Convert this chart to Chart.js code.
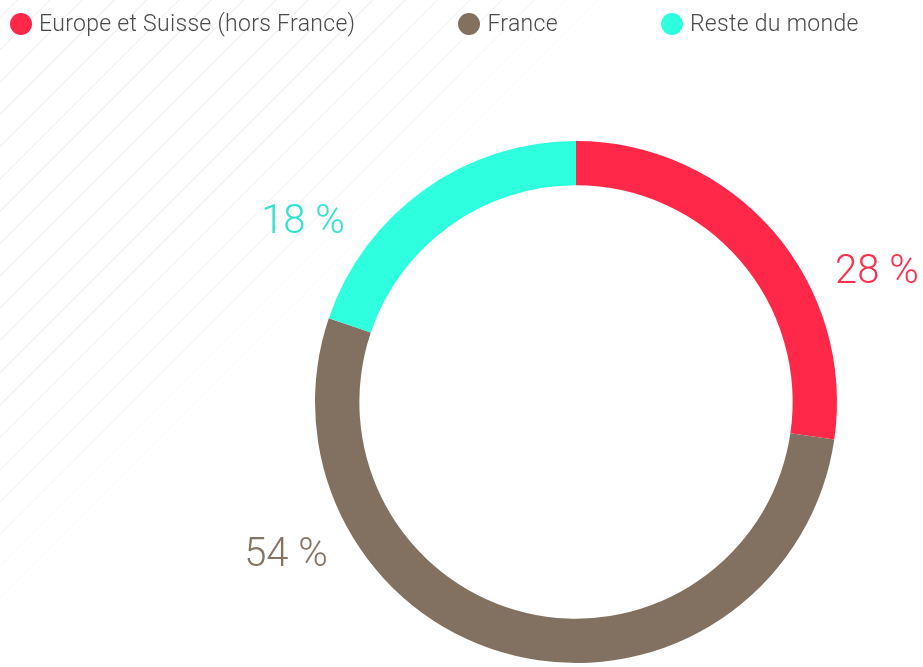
<!DOCTYPE html>
<html>
<head>
    <script src="https://cdn.jsdelivr.net/npm/chart.js"></script>
    <style>
        body { margin: 0; background: #fff; font-family: Roboto, "Noto Sans", Arial, sans-serif; }
        .wrap { position: relative; width: 923px; height: 667px; }
        canvas { position: absolute; left: 0; top: 0; }
        .legend { position: absolute; left: 10px; top: 10px; display: flex; gap: 103px; }
        .item { display: flex; align-items: center; font-size: 23px; letter-spacing: 0.3px; font-weight: 300; color: #4a4a4a; white-space: nowrap; }
        .dot { width: 22px; height: 22px; border-radius: 50%; margin-right: 7px; }
    </style>
</head>
<body>
<div class="wrap">
    <canvas id="donut" width="923" height="667"></canvas>
    <div class="legend" id="legend"></div>
</div>
<script>
    const regions = ['Europe et Suisse (hors France)', 'France', 'Reste du monde'];
    // arc sizes as read from the ring, label texts as printed
    const shares = [27.3, 52.9, 19.8];
    const shareLabels = ['28 %', '54 %', '18 %'];
    const colors = ['#ff2848', '#827161', '#2effdf'];
    const labelColors = ['#ff2e4e', '#857464', '#30e3cf'];

    // label offsets relative to the ring centre, in outer radii
    const labelPos = [[1.153, -0.494], [-1.111, 0.59], [-1.046, -0.686]];

    const legend = document.getElementById('legend');
    regions.forEach((r, i) => {
        const it = document.createElement('div');
        it.className = 'item';
        it.innerHTML = `<span class="dot" style="background:${colors[i]}"></span>${r}`;
        legend.appendChild(it);
    });

    const stripes = {
        id: 'stripes',
        beforeDraw(chart) {
            const ctx = chart.ctx;
            ctx.save();
            ctx.lineWidth = 1;
            for (let c = 17; c < 620; c += 32.3) {
                const a = c < 380 ? 0.8 : Math.max(0.3, 0.8 - (c - 380) / 400);
                ctx.strokeStyle = `rgba(228,228,228,${a})`;
                ctx.beginPath();
                ctx.moveTo(c + 0.5, 0);
                ctx.lineTo(0, c + 0.5);
                ctx.stroke();
            }
            ctx.restore();
        }
    };

    const pctLabels = {
        id: 'pctLabels',
        afterDraw(chart) {
            const arc = chart.getDatasetMeta(0).data[0];
            const cx = arc.x, cy = arc.y, r = arc.outerRadius;
            const ctx = chart.ctx;
            ctx.save();
            ctx.font = '300 40px Roboto';
            ctx.textAlign = 'center';
            ctx.textBaseline = 'middle';
            shareLabels.forEach((t, i) => {
                ctx.fillStyle = labelColors[i];
                ctx.fillText(t, cx + labelPos[i][0] * r, cy + labelPos[i][1] * r);
            });
            ctx.restore();
        }
    };

    new Chart(document.getElementById('donut'), {
        type: 'doughnut',
        data: {
            labels: regions,
            datasets: [{
                data: shares,
                backgroundColor: colors,
                borderWidth: 0
            }]
        },
        options: {
            responsive: false,
            animation: false,
            cutout: '83%',
            layout: { padding: { left: 229, top: 141, bottom: 4, right: 0 } },
            plugins: {
                legend: { display: false },
                tooltip: { enabled: false }
            }
        },
        plugins: [stripes, pctLabels]
    });
</script>
</body>
</html>
